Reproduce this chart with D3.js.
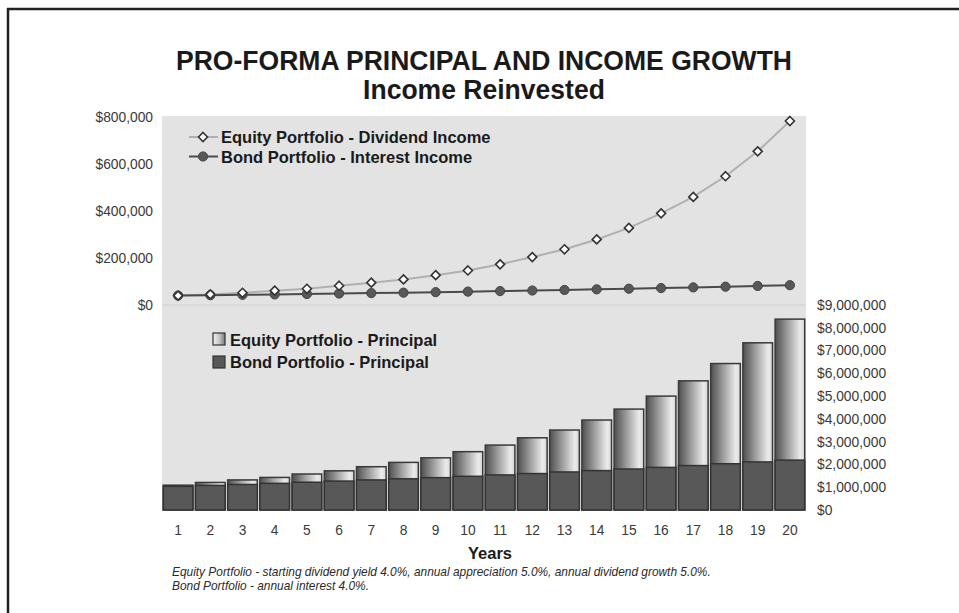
<!DOCTYPE html>
<html>
<head>
<meta charset="utf-8">
<script src="https://cdn.jsdelivr.net/npm/d3@7"></script>
<style>
  body { margin: 0; background: #fff; }
  svg { display: block; font-family: "Liberation Sans", Arial, Helvetica, sans-serif; }
</style>
</head>
<body>
<svg id="chart" width="959" height="613"></svg>
<script>
// ---- data ----
const years = [1, 2, 3, 4, 5, 6, 7, 8, 9, 10, 11, 12, 13, 14, 15, 16, 17, 18, 19, 20];

// annual income, dollars
const equityIncome = [40000, 45000, 52000, 61000, 69000, 82000, 95000, 109000, 127000, 147000,
                      173000, 204000, 237000, 279000, 328000, 390000, 460000, 548000, 654000, 783000];
const bondIncome   = [40000, 41600, 43300, 45000, 46800, 48700, 50600, 52600, 54700, 56900,
                      59200, 61600, 64000, 66600, 69300, 72000, 74900, 77900, 81000, 84300];

// principal value at year end, dollars
const equityPrincipal = [1090000, 1210000, 1320000, 1430000, 1580000, 1720000, 1900000, 2090000, 2290000, 2560000,
                         2850000, 3170000, 3510000, 3950000, 4430000, 5000000, 5670000, 6430000, 7340000, 8380000];
const bondPrincipal   = [1040000, 1080000, 1120000, 1170000, 1220000, 1270000, 1320000, 1370000, 1420000, 1480000,
                         1540000, 1600000, 1670000, 1730000, 1800000, 1870000, 1950000, 2030000, 2110000, 2190000];

const incomeTicks = [0, 200000, 400000, 600000, 800000];
const principalTicks = [0, 1000000, 2000000, 3000000, 4000000, 5000000, 6000000, 7000000, 8000000, 9000000];

const titleText = "PRO-FORMA PRINCIPAL AND INCOME GROWTH";
const subtitleText = "Income Reinvested";
const xTitle = "Years";
const notes = [
  "Equity Portfolio - starting dividend yield 4.0%, annual appreciation 5.0%, annual dividend growth 5.0%.",
  "Bond Portfolio - annual interest 4.0%."
];
const lineLegend = ["Equity Portfolio - Dividend Income", "Bond Portfolio - Interest Income"];
const barLegend = ["Equity Portfolio - Principal", "Bond Portfolio - Principal"];

// ---- layout ----
const plot = { left: 162, right: 806, top: 116, split: 305, bottom: 510 };
const svg = d3.select("#chart");
const fmt = d3.format("$,");

// page frame (top and left rule)
svg.append("line").attr("x1", 7).attr("x2", 959).attr("y1", 9).attr("y2", 9)
  .attr("stroke", "#222").attr("stroke-width", 2.5);
svg.append("line").attr("x1", 8).attr("x2", 8).attr("y1", 8).attr("y2", 613)
  .attr("stroke", "#222").attr("stroke-width", 2.5);

// gradients for equity bars and swatch
const defs = svg.append("defs");
const grad = defs.append("linearGradient").attr("id", "eqGrad")
  .attr("x1", 0).attr("x2", 1).attr("y1", 0).attr("y2", 0);
[[0, "#4e4e4e"], [0.45, "#a2a2a2"], [0.85, "#ebebeb"], [1, "#d6d6d6"]]
  .forEach(([o, c]) => grad.append("stop").attr("offset", o).attr("stop-color", c));
const swGrad = defs.append("linearGradient").attr("id", "swGrad")
  .attr("x1", 0).attr("x2", 1).attr("y1", 0).attr("y2", 0);
[[0, "#f2f2f2"], [0.5, "#c8c8c8"], [1, "#7a7a7a"]]
  .forEach(([o, c]) => swGrad.append("stop").attr("offset", o).attr("stop-color", c));

// plot background
svg.append("rect").attr("x", plot.left).attr("y", plot.top)
  .attr("width", plot.right - plot.left).attr("height", plot.bottom - plot.top)
  .attr("fill", "#e3e3e3");

// scales
const x = d3.scaleBand().domain(years).range([plot.left, plot.right])
  .paddingInner(0.08).paddingOuter(0.04);
const yInc = d3.scaleLinear().domain([0, 800000]).range([plot.split, plot.top + 1]);
const yPrin = d3.scaleLinear().domain([0, 9000000]).range([plot.bottom, plot.split]);
const cx = d => x(d) + x.bandwidth() / 2;

// divider at income $0
svg.append("line").attr("x1", plot.left).attr("x2", plot.right)
  .attr("y1", yInc(0)).attr("y2", yInc(0))
  .attr("stroke", "#d2d2d2").attr("stroke-width", 1.2);

// title
const title = svg.append("text").attr("x", 484).attr("y", 70)
  .attr("text-anchor", "middle").attr("font-size", 27).attr("font-weight", "bold")
  .attr("fill", "#1a1a1a").text(titleText);
const natW = title.node().getComputedTextLength();
const squeeze = 616 / natW;
title.attr("textLength", 616).attr("lengthAdjust", "spacingAndGlyphs");
const sub = svg.append("text").attr("x", 484).attr("y", 99)
  .attr("text-anchor", "middle").attr("font-size", 27).attr("font-weight", "bold")
  .attr("fill", "#1a1a1a").text(subtitleText);
sub.attr("textLength", sub.node().getComputedTextLength() * squeeze)
  .attr("lengthAdjust", "spacingAndGlyphs");

// ---- bars ----
const bars = svg.append("g");
bars.selectAll("rect.eq").data(years).join("rect").attr("class", "eq")
  .attr("x", d => x(d)).attr("width", x.bandwidth())
  .attr("y", (d, i) => yPrin(equityPrincipal[i]))
  .attr("height", (d, i) => yPrin(0) - yPrin(equityPrincipal[i]))
  .attr("fill", "url(#eqGrad)").attr("stroke", "#3a3a3a").attr("stroke-width", 1.5);
bars.selectAll("rect.bd").data(years).join("rect").attr("class", "bd")
  .attr("x", d => x(d)).attr("width", x.bandwidth())
  .attr("y", (d, i) => yPrin(bondPrincipal[i]))
  .attr("height", (d, i) => yPrin(0) - yPrin(bondPrincipal[i]))
  .attr("fill", "#585858").attr("stroke", "#333").attr("stroke-width", 1.5);

// ---- income lines ----
const eqLine = d3.line().x(d => cx(d)).y((d, i) => yInc(equityIncome[i]));
const bdLine = d3.line().x(d => cx(d)).y((d, i) => yInc(bondIncome[i]));
svg.append("path").datum(years).attr("d", eqLine)
  .attr("fill", "none").attr("stroke", "#b0b0b0").attr("stroke-width", 2);
svg.append("path").datum(years).attr("d", bdLine)
  .attr("fill", "none").attr("stroke", "#4a4a4a").attr("stroke-width", 2);

// open diamond marker, 9px across
const diamond = "M0,-4.5L4.5,0L0,4.5L-4.5,0Z";
svg.append("g").selectAll("circle").data(years).join("circle")
  .attr("cx", d => cx(d)).attr("cy", (d, i) => yInc(bondIncome[i]))
  .attr("r", 4.6).attr("fill", "#585858").attr("stroke", "#444").attr("stroke-width", 1);
svg.append("g").selectAll("path").data(years).join("path")
  .attr("d", diamond)
  .attr("transform", (d, i) => `translate(${cx(d)},${yInc(equityIncome[i])})`)
  .attr("fill", "#fff").attr("stroke", "#333").attr("stroke-width", 1.6);

// ---- axes ----
function styleAxis(g) {
  g.select(".domain").remove();
  g.selectAll("line").remove();
  g.selectAll("text").attr("font-size", 13.8).attr("fill", "#3a3a3a")
    .attr("font-family", "\"Liberation Sans\", Arial, sans-serif");
}
svg.append("g").attr("transform", `translate(${plot.left},0)`)
  .call(d3.axisLeft(yInc).tickValues(incomeTicks).tickFormat(fmt).tickSize(0).tickPadding(9))
  .call(styleAxis);
svg.append("g").attr("transform", `translate(${plot.right},0)`)
  .call(d3.axisRight(yPrin).tickValues(principalTicks).tickFormat(fmt).tickSize(0).tickPadding(11))
  .call(styleAxis);
svg.append("g").attr("transform", `translate(0,${plot.bottom})`)
  .call(d3.axisBottom(x).tickSize(0).tickPadding(15))
  .call(styleAxis);

svg.append("text").attr("x", (plot.left + plot.right) / 2 + 6).attr("y", 559)
  .attr("text-anchor", "middle").attr("font-size", 16.5).attr("font-weight", "bold")
  .attr("fill", "#1a1a1a").text(xTitle);

// ---- footnotes ----
svg.append("g").selectAll("text").data(notes).join("text")
  .attr("x", 172).attr("y", (d, i) => 576 + i * 14)
  .attr("font-size", 11.9).attr("font-style", "italic").attr("fill", "#2a2a2a")
  .text(d => d);

// ---- income legend ----
const lg = svg.append("g");
lg.append("line").attr("x1", 189).attr("x2", 218).attr("y1", 137).attr("y2", 137)
  .attr("stroke", "#b0b0b0").attr("stroke-width", 2);
lg.append("path").attr("d", diamond).attr("transform", "translate(203,137)")
  .attr("fill", "#fff").attr("stroke", "#333").attr("stroke-width", 1.6);
lg.append("line").attr("x1", 189).attr("x2", 218).attr("y1", 156.5).attr("y2", 156.5)
  .attr("stroke", "#4a4a4a").attr("stroke-width", 2);
lg.append("circle").attr("cx", 203).attr("cy", 156.5).attr("r", 4.6)
  .attr("fill", "#585858").attr("stroke", "#444");
lg.selectAll("text").data(lineLegend).join("text")
  .attr("x", 221).attr("y", (d, i) => 143 + i * 19.5)
  .attr("font-size", 16.5).attr("font-weight", "bold").attr("fill", "#1a1a1a")
  .text(d => d);

// ---- principal legend ----
const bl = svg.append("g");
bl.append("rect").attr("x", 213).attr("y", 333).attr("width", 12).attr("height", 12)
  .attr("fill", "url(#swGrad)").attr("stroke", "#333").attr("stroke-width", 1.2);
bl.append("rect").attr("x", 213).attr("y", 356).attr("width", 12).attr("height", 12)
  .attr("fill", "#585858").attr("stroke", "#333").attr("stroke-width", 1.2);
bl.selectAll("text").data(barLegend).join("text")
  .attr("x", 230).attr("y", (d, i) => 345.5 + i * 22.5)
  .attr("font-size", 16.5).attr("font-weight", "bold").attr("fill", "#1a1a1a")
  .text(d => d);
</script>
</body>
</html>
